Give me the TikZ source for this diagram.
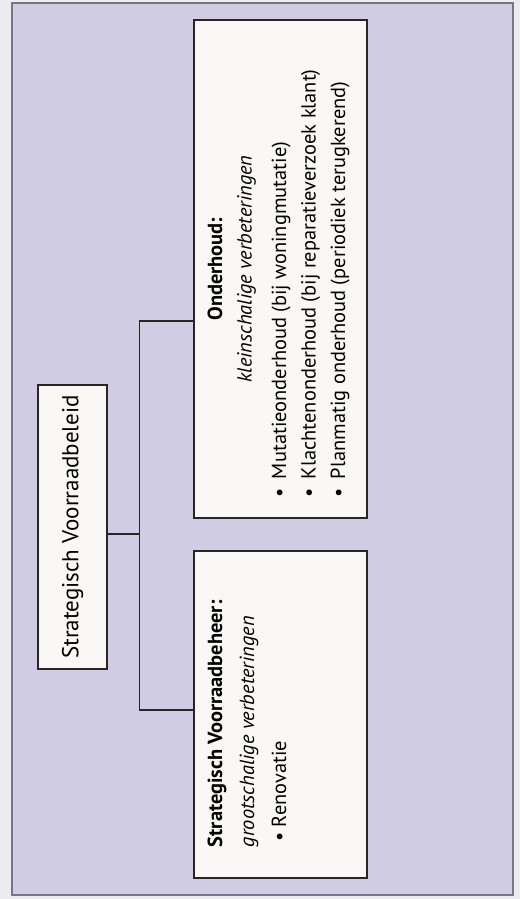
\documentclass[tikz,border=0pt]{standalone}
\usepackage{fontspec}
\setmainfont{PT Sans}
\usetikzlibrary{calc}
\definecolor{paars}{RGB}{208,204,228}
\definecolor{rand}{RGB}{236,235,240}
\definecolor{kader}{RGB}{120,118,132}
\definecolor{blokwit}{RGB}{249,248,246}

\tikzset{
  blok/.style={draw=black!85, fill=blokwit, line width=0.7pt, rotate=90, inner sep=0pt},
  lijn/.style={draw=black!85, line width=0.7pt},
}

\begin{document}
\begin{tikzpicture}[x=0.5pt,y=-0.5pt]
 \fill[rand] (0,0) rectangle (520,899);
 \filldraw[fill=paars, draw=kader, line width=0.8pt] (12,3) rectangle (513,895);
 %
 \node[blok, minimum width=142pt, minimum height=34.5pt, font=\fontsize{11.5}{13}\selectfont]
   (beleid) at (72.5,527) {Strategisch Voorraadbeleid};
 \node[blok] (onderhoud) at (280.5,269) {\parbox[c][86.5pt][t]{249pt}{\fontsize{10.2}{14.75}\selectfont
   {\centering\rule{0pt}{14pt}\textbf{Onderhoud:}\\ \textit{kleinschalige verbeteringen}\par}
   \vspace{2.5pt}
   \hspace*{10.5pt}\makebox[9pt][l]{\textbullet}Mutatieonderhoud (bij woningmutatie)\\
   \hspace*{10.5pt}\makebox[9pt][l]{\textbullet}Klachtenonderhoud (bij reparatieverzoek klant)\\
   \hspace*{10.5pt}\makebox[9pt][l]{\textbullet}Planmatig onderhoud (periodiek terugkerend)}};
 \node[blok] (beheer) at (280.5,714.5) {\parbox[c][86.5pt][t]{163.5pt}{\fontsize{10.2}{16}\selectfont
   \rule{0pt}{14pt}\hspace*{15.5pt}\textbf{Strategisch Voorraadbeheer:}\\
   \hspace*{15.5pt}\textit{grootschalige verbeteringen}\\
   \hspace*{18.5pt}\makebox[7pt][l]{\textbullet}Renovatie}};
 %
 \coordinate (b1) at ($(beleid.south west)!0.475!(beleid.south east)$);
 \coordinate (o1) at ($(onderhoud.north west)!0.396!(onderhoud.north east)$);
 \coordinate (s1) at ($(beheer.north west)!0.514!(beheer.north east)$);
 \draw[lijn] (b1) -- ++(32,0) coordinate (tak);
 \draw[lijn] (o1) -| (tak) |- (s1);
\end{tikzpicture}
\end{document}
